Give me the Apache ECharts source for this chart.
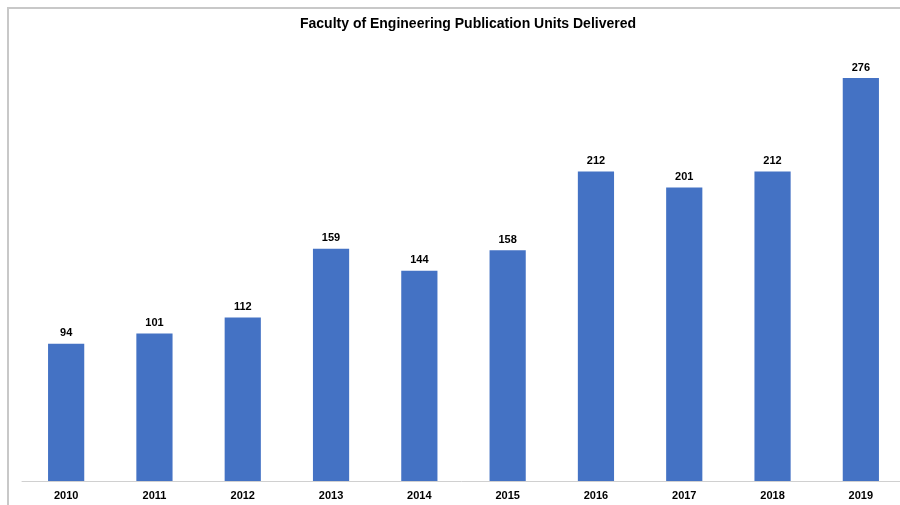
<!DOCTYPE html>
<html>
<head>
<meta charset="utf-8">
<script src="https://cdn.jsdelivr.net/npm/echarts@6/dist/echarts.min.js"></script>
<style>
  html, body { margin: 0; padding: 0; background: #fff; overflow: hidden; }
  #main { width: 900px; height: 505px; }
</style>
</head>
<body>
<div id="main"></div>
<script>
// data
const years = ["2010", "2011", "2012", "2013", "2014", "2015", "2016", "2017", "2018", "2019"];
const units = [94, 101, 112, 159, 144, 158, 212, 201, 212, 276];

const chart = echarts.init(document.getElementById("main"));

const option = {
  animation: false,
  title: {
    text: "Faculty of Engineering Publication Units Delivered",
    left: 463,
    textAlign: "center",
    top: 12,
    textStyle: {
      fontFamily: "Liberation Sans, Arial, sans-serif",
      fontSize: 14,
      fontWeight: "bold",
      color: "#000",
    },
  },
  graphic: [
    {
      type: "rect",
      shape: { x: 8, y: 8, width: 1000, height: 1000 },
      style: { fill: "none", stroke: "#c8c8c8", lineWidth: 2 },
      silent: true,
    },
  ],
  // plot area runs past the right edge, as in the cropped original
  grid: {
    left: 22,
    width: 883,
    top: 43,
    bottom: 24,
    outerBoundsMode: "none",
  },
  xAxis: {
    type: "category",
    data: years,
    axisLine: { lineStyle: { color: "#d0d0d0", width: 1 } },
    axisTick: { show: false },
    axisLabel: {
      margin: 9,
      fontFamily: "Liberation Sans, Arial, sans-serif",
      fontSize: 11,
      fontWeight: "bold",
      color: "#000",
    },
  },
  yAxis: {
    type: "value",
    min: 0,
    max: 300,
    show: false,
    splitLine: { show: false },
  },
  series: [
    {
      type: "bar",
      data: units,
      barWidth: "41%",
      itemStyle: { color: "#4472C4" },
      label: {
        show: true,
        position: "top",
        distance: 5,
        fontFamily: "Liberation Sans, Arial, sans-serif",
        fontSize: 11,
        fontWeight: "bold",
        color: "#000",
      },
    },
  ],
};

chart.setOption(option);
</script>
</body>
</html>
